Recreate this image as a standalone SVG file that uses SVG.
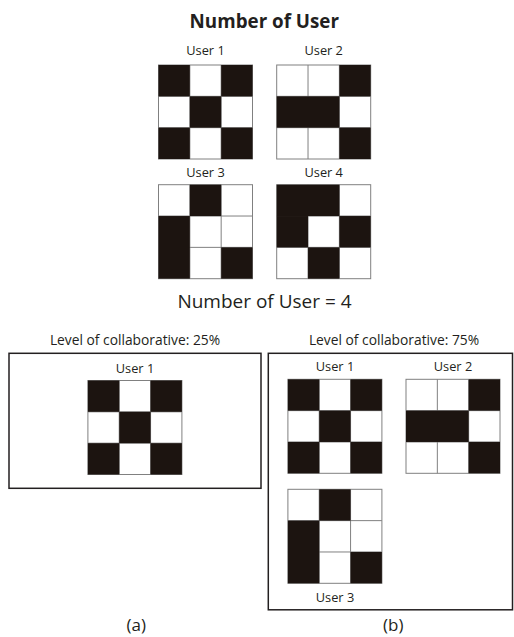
<svg xmlns="http://www.w3.org/2000/svg" xmlns:xlink="http://www.w3.org/1999/xlink" width="514" height="637" viewBox="0 0 514 637">
<style>
text{font-family:"Open Sans","Noto Sans","Liberation Sans",sans-serif;fill:#231f20;text-anchor:middle}
.lbl{font-size:12.8px}
.lvl{font-size:13.8px}
.big{font-size:19px}
.par{font-size:17px}
.ttl{font-size:18.8px;font-weight:bold}
.box{fill:none;stroke:#231f20;stroke-width:1.5}
.bg{fill:#fff;stroke:#808080;stroke-width:1}
.gl{stroke:#808080;stroke-width:1}
.b{fill:#1c1410}
</style>
<defs>
<g id="grid">
<rect class="bg" x="0" y="0" width="94" height="94"/>
<line class="gl" x1="31.33" y1="0" x2="31.33" y2="94"/>
<line class="gl" x1="62.67" y1="0" x2="62.67" y2="94"/>
<line class="gl" x1="0" y1="31.33" x2="94" y2="31.33"/>
<line class="gl" x1="0" y1="62.67" x2="94" y2="62.67"/>
</g>
<g id="u1">
<use xlink:href="#grid"/>
<rect class="b" x="0" y="0" width="31.33" height="31.33"/>
<rect class="b" x="62.67" y="0" width="31.33" height="31.33"/>
<rect class="b" x="31.33" y="31.33" width="31.34" height="31.34"/>
<rect class="b" x="0" y="62.67" width="31.33" height="31.33"/>
<rect class="b" x="62.67" y="62.67" width="31.33" height="31.33"/>
</g>
<g id="u2">
<use xlink:href="#grid"/>
<rect class="b" x="62.67" y="0" width="31.33" height="31.33"/>
<rect class="b" x="0" y="31.33" width="62.67" height="31.34"/>
<rect class="b" x="62.67" y="62.67" width="31.33" height="31.33"/>
</g>
<g id="u3">
<use xlink:href="#grid"/>
<rect class="b" x="31.33" y="0" width="31.34" height="31.33"/>
<rect class="b" x="0" y="31.33" width="31.33" height="62.67"/>
<rect class="b" x="62.67" y="62.67" width="31.33" height="31.33"/>
</g>
<g id="u4">
<use xlink:href="#grid"/>
<rect class="b" x="0" y="0" width="62.67" height="31.33"/>
<rect class="b" x="0" y="31.33" width="31.33" height="31.34"/>
<rect class="b" x="62.67" y="31.33" width="31.33" height="31.34"/>
<rect class="b" x="31.33" y="62.67" width="31.34" height="31.33"/>
</g>
</defs>
<rect width="514" height="637" fill="#fff"/>
<g id="top">
<text class="ttl" x="264.3" y="27.7">Number of User</text>
<g id="top-user1"><text class="lbl" x="205.5" y="55">User 1</text><use xlink:href="#u1" x="158.5" y="65"/></g>
<g id="top-user2"><text class="lbl" x="323.7" y="55">User 2</text><use xlink:href="#u2" x="276.7" y="65"/></g>
<g id="top-user3"><text class="lbl" x="205.5" y="176.7">User 3</text><use xlink:href="#u3" x="158.5" y="184.7"/></g>
<g id="top-user4"><text class="lbl" x="323.7" y="176.7">User 4</text><use xlink:href="#u4" x="276.7" y="184.7"/></g>
<text class="big" x="264.5" y="308">Number of User = 4</text>
</g>
<g id="panel-a">
<text class="lvl" x="135" y="345">Level of collaborative: 25%</text>
<rect class="box" x="9" y="353.3" width="252" height="135"/>
<text class="lbl" x="135" y="373.3">User 1</text>
<use xlink:href="#u1" x="87.9" y="380.5"/>
<text class="par" x="136.3" y="631">(a)</text>
</g>
<g id="panel-b">
<text class="lvl" x="394" y="345">Level of collaborative: 75%</text>
<rect class="box" x="268.3" y="353.3" width="244.2" height="256.5"/>
<g id="b-user1"><text class="lbl" x="335" y="371">User 1</text><use xlink:href="#u1" x="287.9" y="379.3"/></g>
<g id="b-user2"><text class="lbl" x="453" y="371">User 2</text><use xlink:href="#u2" x="406" y="379.3"/></g>
<g id="b-user3"><use xlink:href="#u3" x="287.9" y="489.3"/><text class="lbl" x="335" y="601.7">User 3</text></g>
<text class="par" x="393.3" y="631">(b)</text>
</g>
<g id="connectors"/>
</svg>
